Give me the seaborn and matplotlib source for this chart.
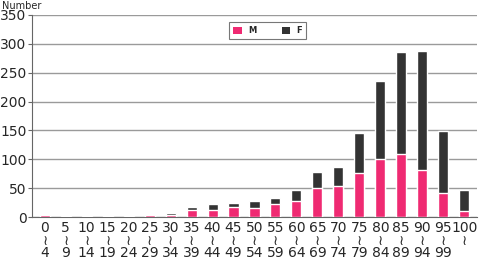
import matplotlib
matplotlib.use("Agg")
import matplotlib.pyplot as plt
import seaborn as sns
import pandas as pd
from matplotlib.patches import Patch

starts = [0, 5, 10, 15, 20, 25, 30, 35, 40, 45, 50, 55, 60, 65, 70, 75, 80, 85, 90, 95, 100]
ends = [4, 9, 14, 19, 24, 29, 34, 39, 44, 49, 54, 59, 64, 69, 74, 79, 84, 89, 94, 99, None]
male = [4, 0.5, 0.5, 1, 0.5, 3, 3, 12, 13, 18, 16, 22, 27, 50, 54, 76, 100, 109, 81, 42, 10]
female = [0, 0.5, 0.5, 1, 0.5, 1, 4, 5, 9, 7, 11, 11, 20, 28, 33, 70, 136, 176, 207, 107, 36]

labels = [f"{s}\n≀\n{e}" if e is not None else f"{s}\n≀\n " for s, e in zip(starts, ends)]
total = [m + f for m, f in zip(male, female)]
df = pd.DataFrame({"age": labels, "M": male, "F": female, "total": total})

sns.set_style("white")
plt.rcParams['font.family'] = ['DejaVu Sans']

fig = plt.figure(figsize=(4.88, 2.66), dpi=100)
ax = fig.add_axes([0.066, 0.184, 0.911, 0.76])

pink = "#ef2a72"
dark = "#333333"
sns.barplot(data=df, x="age", y="total", color=dark, width=0.48, ax=ax, saturation=1, zorder=3)
sns.barplot(data=df, x="age", y="M", color=pink, width=0.48, ax=ax, saturation=1, zorder=3)

ax.set_ylim(0, 350)
ax.set_xlim(-0.6, 20.6)
ax.set_yticks(range(0, 351, 50))
ax.yaxis.grid(True, color="#9a9a9a", linewidth=1.0, zorder=0)
ax.set_axisbelow(True)
ax.set_xlabel("")
ax.set_ylabel("")
ax.spines["right"].set_visible(False)
ax.spines["top"].set_visible(False)
ax.spines["left"].set_color("#666666")
ax.spines["bottom"].set_color("#666666")
ax.tick_params(axis="y", labelsize=10, length=3, color="#666666", pad=1, left=True)
ax.tick_params(axis="x", labelsize=10, length=0, pad=3)
for t in ax.get_xticklabels():
    t.set_linespacing(0.85)

handles = [Patch(facecolor=pink, edgecolor="none", label="M"),
           Patch(facecolor=dark, edgecolor="none", label="F")]
leg = ax.legend(handles=handles, loc="upper center", bbox_to_anchor=(0.53, 0.985), ncol=2,
                fontsize=6, frameon=True, fancybox=False, edgecolor="#555555",
                handlelength=1.0, handleheight=1.0, columnspacing=3.0, borderpad=0.5)
leg.get_frame().set_linewidth(0.8)
for t in leg.get_texts():
    t.set_fontweight("bold")

fig.text(0.005, 0.998, "Number", fontsize=7, va="top", ha="left")

fig.savefig("out.png", dpi=100)
